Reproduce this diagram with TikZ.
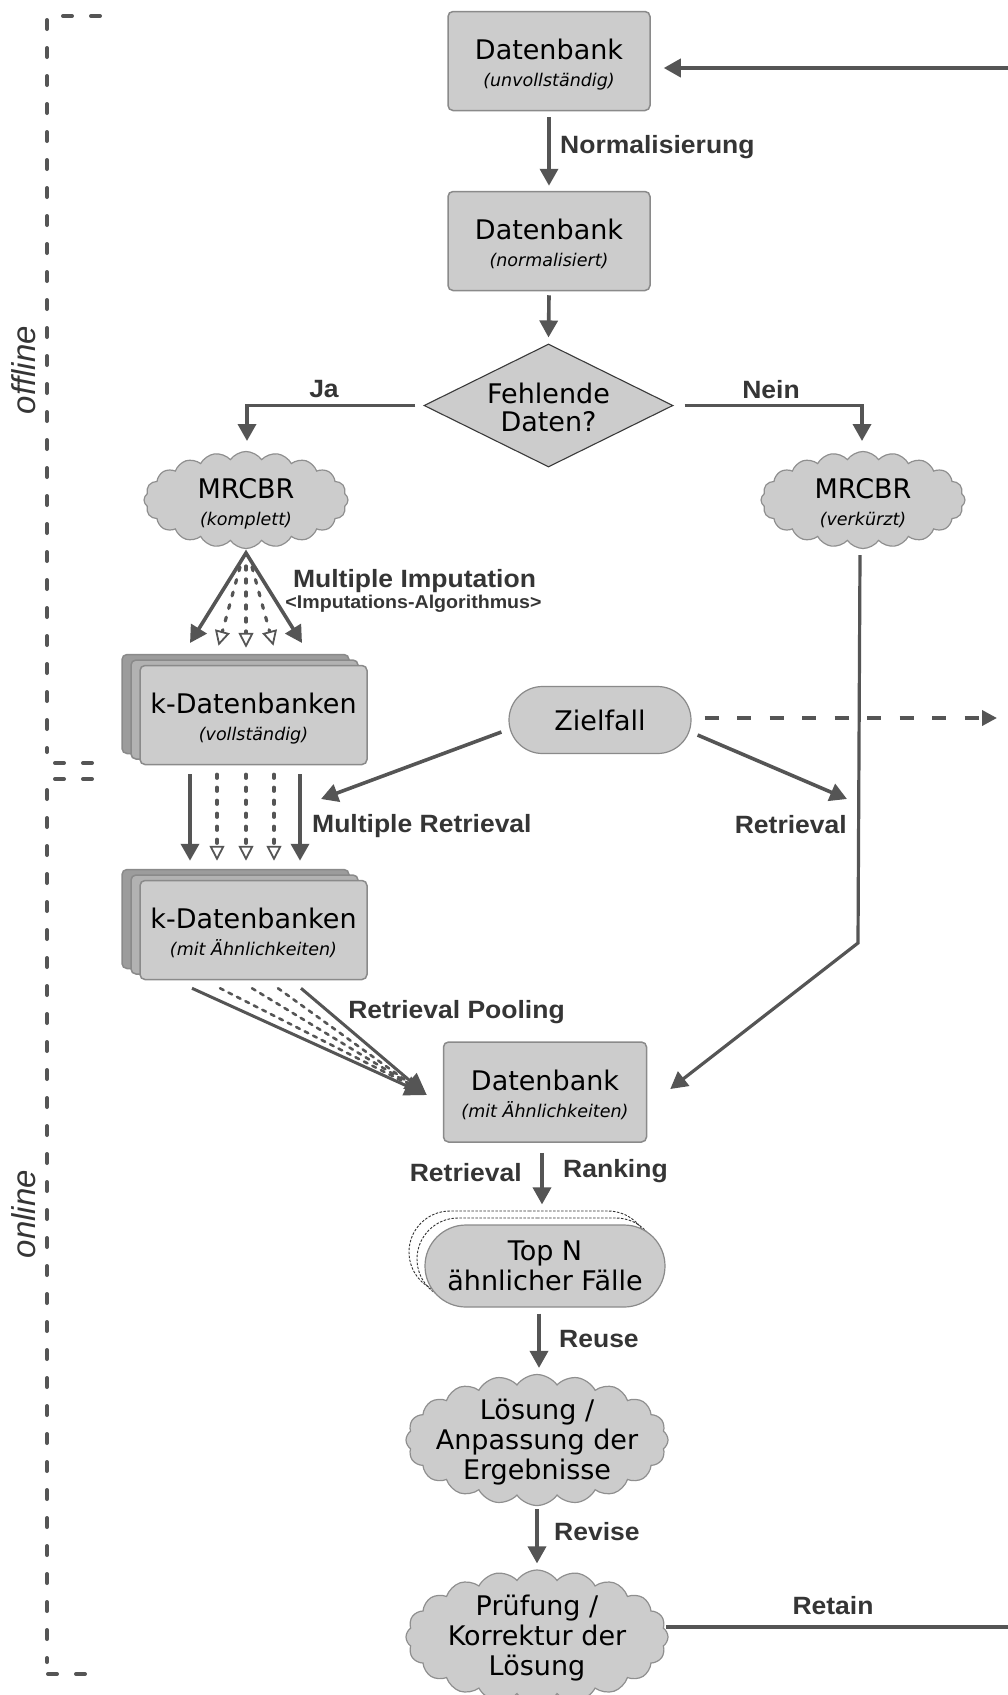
\documentclass[tikz,border=0pt]{standalone}
\usepackage{fontspec}
\setmainfont{DejaVu Sans}
\newfontfamily\lblfamily{Liberation Sans}[FakeStretch=1.06]
\newfontfamily\sidefamily{Liberation Sans}
\usetikzlibrary{arrows.meta,calc,shapes.geometric,shapes.symbols,shapes.misc}

\definecolor{boxfill}{HTML}{CCCCCC}
\definecolor{boxline}{HTML}{8A8A8A}
\definecolor{cloudline}{HTML}{8F8F8F}
\definecolor{diamondline}{HTML}{3A3A3A}
\definecolor{arrowc}{HTML}{555555}
\definecolor{labelc}{HTML}{353535}
\definecolor{layerA}{HTML}{9C9C9C}
\definecolor{layerB}{HTML}{B2B2B2}

\newcommand\txmain{\fontsize{27pt}{30pt}\selectfont}
\newcommand\txsub{\fontsize{17.5pt}{21pt}\selectfont\itshape}
\newcommand\txlbl{\lblfamily\bfseries\fontsize{25pt}{28pt}\selectfont}
\newcommand\txlblsm{\lblfamily\bfseries\fontsize{18.5pt}{21pt}\selectfont}
\newcommand\txside{\sidefamily\itshape\fontsize{33pt}{36pt}\selectfont}
% taller first line pushes two-line captions slightly down in their boxes
\newcommand\topstrut{\rule{0pt}{27pt}}

\tikzset{
  base/.style={fill=boxfill, draw=boxline, line width=1.5pt, align=center,
    font=\txmain, text=black, inner sep=0pt},
  dbbox/.style={base, rectangle, rounded corners=5pt,
    minimum width=202pt, minimum height=99pt},
  stackbox/.style={dbbox, minimum width=227pt},
  pill/.style={base, rounded rectangle, line width=1.2pt},
  pillghost/.style={rounded rectangle, draw=black!80, line width=0.9pt,
    dash pattern=on 2.5pt off 1.5pt, minimum width=240pt, minimum height=82pt,
    inner sep=0pt},
  puff/.style={base, cloud, cloud puffs=20, cloud puff arc=110,
    cloud ignores aspect, line width=1.2pt, draw=cloudline},
  puffText/.style={align=center, font=\txmain, text=black, inner sep=0pt},
  decision/.style={base, diamond, aspect=2, draw=diamondline, line width=1.1pt},
  lbl/.style={font=\txlbl, text=labelc, inner sep=0pt},
  lblsm/.style={font=\txlblsm, text=labelc, inner sep=0pt},
  side/.style={font=\txside, text=labelc, inner sep=0pt, rotate=90},
  arr/.style={draw=arrowc, line width=3.6pt,
    -{Triangle[length=17pt,width=18pt]}},
  thinarr/.style={draw=arrowc, line width=3.2pt,
    -{Triangle[length=17pt,width=18pt]}},
  dotarr/.style={draw=arrowc, line width=3.2pt, line cap=round,
    dash pattern=on 4pt off 9pt,
    -{Triangle[length=15pt,width=15pt,fill=white,line width=1.8pt]}},
  poolarr/.style={draw=arrowc, line width=3pt,
    -{Triangle[length=22pt,width=20pt]}},
  pooldash/.style={draw=arrowc, line width=2.6pt, line cap=round,
    dash pattern=on 4pt off 5.5pt},
  dashout/.style={draw=arrowc, line width=3.6pt,
    dash pattern=on 14pt off 18.5pt,
    -{Triangle[length=15pt,width=15pt]}},
  bracket/.style={draw=arrowc, line width=4pt, line cap=round,
    dash pattern=on 9pt off 19pt},
  plain/.style={draw=arrowc, line width=3.6pt},
}

\begin{document}
\begin{tikzpicture}[x=1pt,y=-1pt]
\path[use as bounding box] (0,0) rectangle (1008,1695);
\clip (0,0) rectangle (1008,1695);

% ---------- phase brackets ----------
\draw[bracket] (100,16) -- (55,16);
\draw[bracket] (47,20) -- (47,752);
\draw[bracket] (92,763) -- (52,763);
\draw[bracket] (92,779) -- (52,779);
\draw[bracket] (47,790) -- (47,1662);
\draw[bracket] (48,1674) -- (88,1674);
\node[side] (offline) at (24,370) {offline};
\node[side] (online) at (24,1214) {online};

% ---------- nodes ----------
\node[dbbox] (db1) at (549,61) {\topstrut Datenbank\\[-3pt]{\txsub (unvollständig)}};
\node[dbbox] (db2) at (549,241) {\topstrut Datenbank\\[-3pt]{\txsub (normalisiert)}};
\node[decision, minimum width=249pt, minimum height=123pt] (fd) at (548.5,405.5)
  {\rule{0pt}{24pt}Fehlende\\[-2pt]Daten?};
\node[puff, minimum width=204pt, minimum height=97pt] (mk) at (246,500)
  {\topstrut MRCBR\\[-3pt]{\txsub (komplett)}};
\node[puff, minimum width=204pt, minimum height=97pt] (mv) at (863,500)
  {\topstrut MRCBR\\[-3pt]{\txsub (verkürzt)}};

\node[stackbox, fill=layerA] (kdb1c) at (235.5,704) {};
\node[stackbox, fill=layerB] (kdb1b) at (244.5,709.5) {};
\node[stackbox] (kdb1) at (253.5,715) {\topstrut k-Datenbanken\\[-3pt]{\txsub (vollständig)}};

\node[pill, minimum width=182pt, minimum height=67pt] (zf) at (600,720) {Zielfall};

\node[stackbox, fill=layerA] (kdb2c) at (235.5,919) {};
\node[stackbox, fill=layerB] (kdb2b) at (244.5,924.5) {};
\node[stackbox] (kdb2) at (253.5,930) {\topstrut k-Datenbanken\\[-3pt]{\txsub (mit Ähnlichkeiten)}};

\node[dbbox, minimum width=203pt, minimum height=100pt] (db3) at (545,1092)
  {\topstrut Datenbank\\[-3pt]{\txsub (mit Ähnlichkeiten)}};

\node[pillghost] (topnC) at (529,1252) {};
\node[pillghost] (topnB) at (537,1259) {};
\node[pill, minimum width=240pt, minimum height=82pt] (topn) at (545,1266)
  {Top N\\ähnlicher Fälle};

\node[puff, minimum width=262pt, minimum height=131pt] (loes) at (537,1440) {};
\node[puffText] (loesText) at ($(loes.center)+(0,2)$) {Lösung /\\Anpassung der\\Ergebnisse};
\node[puff, minimum width=262pt, minimum height=134pt] (pruef) at (537,1637) {};
\node[puffText] (pruefText) at ($(pruef.center)+(0,1)$) {Prüfung /\\Korrektur der\\Lösung};

% ---------- free ends and bend points ----------
\coordinate (inR) at (1015,68);
\coordinate (inTip) at ($(db1.east)+(13,7)$);
\coordinate (apex) at ($(mk.center)+(0,53)$);
\coordinate (fanL) at (190,643);
\coordinate (fanR) at (302,643);
\coordinate (mrTip) at (321,799);
\coordinate (rTip) at (847,799);
\coordinate (zfOut) at (997,718);
\coordinate (mvBend) at (858,943);
\coordinate (poolTip) at ($(db3.west)+(-16,3)$);
\coordinate (retOut) at (1015,1627);

% ---------- connectors ----------
\draw[arr] (inR) -- (inTip);
\draw[arr] ($(db1.south)+(0,6)$) -- ($(db2.north)+(0,-5)$);
\draw[arr] ($(db2.south)+(0,4)$) -- ($(fd.north)+(0,-6)$);
\draw[arr] ($(fd.west)+(-8,0)$) -| ($(mk.center)+(1,-59)$);
\draw[arr] ($(fd.east)+(11,0)$) -| ($(mv.center)+(-1,-59)$);

% multiple imputation fan
\draw[draw=arrowc, line width=3.6pt, miter limit=20,
  {Triangle[length=17pt,width=18pt]}-{Triangle[length=17pt,width=18pt]}]
  (fanL) -- (apex) -- (fanR);
\draw[dotarr] ($(apex)+(-6,14)$) -- ($(kdb1c.north)+(-17,-8)$);
\draw[dotarr] ($(apex)+(0,13)$) -- ($(kdb1c.north)+(10.5,-6)$);
\draw[dotarr] ($(apex)+(6,14)$) -- ($(kdb1c.north)+(38,-8)$);

% multiple retrieval
\draw[arr] ($(kdb1.south)+(-63.5,9)$) -- ($(kdb2.north)+(-63.5,-19)$);
\draw[dotarr] ($(kdb1.south)+(-36.5,9)$) -- ($(kdb2.north)+(-36.5,-19)$);
\draw[dotarr] ($(kdb1.south)+(-7.5,9)$) -- ($(kdb2.north)+(-7.5,-19)$);
\draw[dotarr] ($(kdb1.south)+(20.5,9)$) -- ($(kdb2.north)+(20.5,-19)$);
\draw[arr] ($(kdb1.south)+(46.5,9)$) -- ($(kdb2.north)+(46.5,-19)$);

\draw[arr] ($(zf.west)+(-7,12)$) -- (mrTip);
\draw[arr] ($(zf.east)+(6,15)$) -- (rTip);
\draw[dashout] ($(zf.east)+(13,-2)$) -- (zfOut);

% shortened MRCBR branch
\draw[thinarr] ($(mv.center)+(-3,55)$) -- (mvBend) -- ($(db3.east)+(23,-3)$);

% retrieval pooling
\draw[pooldash] ($(kdb2.south)+(-33.5,8)$) -- ($(poolTip)!12pt!(kdb2.south)$);
\draw[pooldash] ($(kdb2.south)+(-1.5,8)$) -- ($(poolTip)!12pt!(kdb2.south)$);
\draw[pooldash] ($(kdb2.south)+(24.5,8)$) -- ($(poolTip)!12pt!(kdb2.south)$);
\draw[poolarr] ($(kdb2.south)+(-61.5,8)$) -- (poolTip);
\draw[poolarr] ($(kdb2.south)+(47.5,8)$) -- (poolTip);

\draw[arr] ($(db3.south)+(-3,10)$) -- ($(topn.north)+(-3,-20)$);
\draw[arr] ($(topn.south)+(-6,6)$) -- ($(loes.north)+(2,-6)$);
\draw[arr] ($(loes.south)+(0,3)$) -- ($(pruef.north)+(0,-6)$);
\draw[plain] ($(pruef.center)+(129,-10)$) -- (retOut);

% ---------- labels ----------
\node[lbl, anchor=base] (lJa) at (324,397) {Ja};
\node[lbl, anchor=base] (lNein) at (771,398) {Nein};
\node[lbl, anchor=base west] (lNorm) at (560,153) {Normalisierung};
\node[lbl, anchor=base] (lMI) at (414.5,587) {Multiple Imputation};
\node[lblsm, anchor=base] (lAlg) at (413.5,608.5) {<Imputations-Algorithmus>};
\node[lbl, anchor=base west] (lMR) at (312,832) {Multiple Retrieval};
\node[lbl, anchor=base east] (lRet) at (847,833) {Retrieval};
\node[lbl, anchor=base] (lPool) at (456.5,1018) {Retrieval Pooling};
\node[lbl, anchor=base east] (lRet2) at (522,1181) {Retrieval};
\node[lbl, anchor=base west] (lRank) at (563,1177) {Ranking};
\node[lbl, anchor=base west] (lReuse) at (559,1347) {Reuse};
\node[lbl, anchor=base west] (lRev) at (554,1540) {Revise};
\node[lbl, anchor=base] (lRetain) at (833,1614) {Retain};
\end{tikzpicture}
\end{document}
